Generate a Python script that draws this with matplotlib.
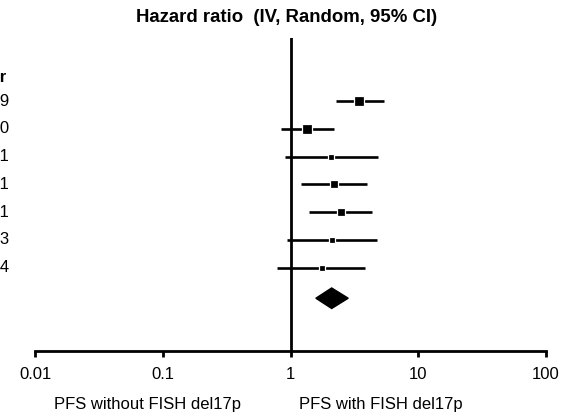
import matplotlib.pyplot as plt
from matplotlib.patches import Polygon

plt.rcParams['font.family'] = ['Liberation Sans', 'DejaVu Sans']

# study rows (left year column is cut off at the figure edge)
years = ['2009', '2010', '2011', '2011', '2011', '2013', '2014']
hr = [3.46, 1.34, 2.07, 2.19, 2.48, 2.10, 1.77]
lo = [2.26, 0.84, 0.905, 1.21, 1.40, 0.934, 0.784]
hi = [5.39, 2.18, 4.87, 3.95, 4.37, 4.73, 3.85]
weight = [23, 25, 9, 11, 13, 9.5, 9.5]

# pooled estimate
pooled = (2.10, 1.58, 2.83)

ticks = [0.01, 0.1, 1, 10, 100]
tick_labels = ['0.01', '0.1', '1', '10', '100']

fig = plt.figure(figsize=(5.77, 4.16), dpi=100)
ax = fig.add_axes([35/577, 65/416, 511/577, 313/416])
ax.set_xscale('log')
ax.set_xlim(0.01, 100)
ax.set_ylim(9.0, -2.27)

ax.axvline(1, color='black', lw=2, zorder=1)

for i in range(len(hr)):
    ax.plot([lo[i], hi[i]], [i, i], color='black', lw=1.9, solid_capstyle='butt', zorder=2)
    ax.plot(hr[i], i, marker='s', color='black', markersize=1.33 * weight[i] ** 0.5 + 0.9,
            markeredgecolor='white', markeredgewidth=0.9, zorder=3)

y_d = len(hr) + 0.1
h = 0.37
ax.add_patch(Polygon([(pooled[1], y_d), (pooled[0], y_d - h), (pooled[2], y_d), (pooled[0], y_d + h)],
                     closed=True, color='black', zorder=3))

for s in ['left', 'right', 'top']:
    ax.spines[s].set_visible(False)
ax.spines['bottom'].set_linewidth(2)
ax.set_yticks([])
ax.set_xticks(ticks)
ax.set_xticklabels(tick_labels)
ax.minorticks_off()
ax.tick_params(axis='x', direction='out', length=4.5, width=2, pad=7, labelsize=12)

fig.text(287/577, 1 - 18/416, 'Hazard ratio  (IV, Random, 95% CI)', ha='center', va='center',
         fontsize=13.4, fontweight='bold')

# year column
row_px = 27.8
fig.text(7/577, 1 - 78/416, 'Year', ha='right', va='center', fontsize=12, fontweight='bold')
for i, y in enumerate(years):
    fig.text(9/577, 1 - (101 + i * row_px)/416, y, ha='right', va='center', fontsize=12)

fig.text(147/577, 1 - 404/416, 'PFS without FISH del17p', ha='center', va='center', fontsize=12)
fig.text(381/577, 1 - 404/416, 'PFS with FISH del17p', ha='center', va='center', fontsize=12)

fig.savefig('out.png', dpi=100)
